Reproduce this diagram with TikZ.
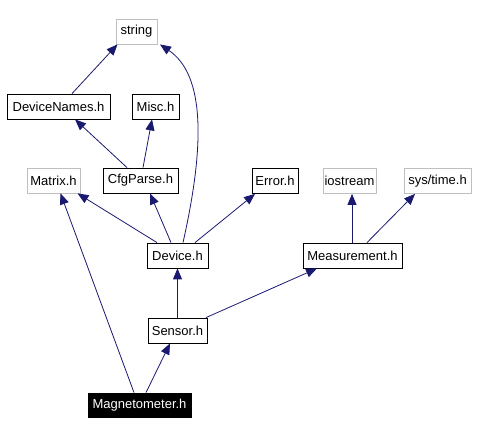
\documentclass[tikz,border=0pt]{standalone}
\usepackage{fontspec}
\setmainfont{Liberation Sans}
\usetikzlibrary{arrows.meta}
\definecolor{edgeblue}{HTML}{191970}
\definecolor{boxgray}{HTML}{BFBFBF}
\begin{document}
\begin{tikzpicture}[x=1pt,y=1pt,
  box/.style={draw=black,line width=0.8pt,fill=white,inner sep=0pt,minimum height=25pt,font=\fontsize{13}{15}\selectfont},
  extbox/.style={box,draw=boxgray},
  mainbox/.style={box,fill=black,text=white},
  dep/.style={draw=edgeblue,line width=0.8pt,-{Triangle[length=11pt,width=9pt]}}]
\useasboundingbox (0,0) rectangle (478,435);
\node[extbox,minimum width=41pt] (string) at (136.5,403.5) {string};
\node[box,minimum width=103pt] (devnames) at (58.5,328.5) {DeviceNames.h};
\node[box,minimum width=47pt] (misc) at (155.5,328.5) {Misc.h};
\node[extbox,minimum width=53pt] (matrix) at (53.5,254.5) {Matrix.h};
\node[box,minimum width=75pt] (cfg) at (140.5,254.5) {CfgParse.h};
\node[box,minimum width=46pt] (error) at (275,254) {Error.h};
\node[extbox,minimum width=53pt] (iostream) at (349.5,254) {iostream};
\node[extbox,minimum width=67pt] (systime) at (437.5,254) {sys/time.h};
\node[box,minimum width=61pt] (device) at (177.5,179.5) {Device.h};
\node[box,minimum width=99pt] (meas) at (352.5,179.5) {Measurement.h};
\node[box,minimum width=59pt] (sensor) at (177.5,104.5) {Sensor.h};
\node[mainbox,minimum width=103pt,minimum height=24pt] (magn) at (139.5,30) {Magnetometer.h};

\draw[dep] ([xshift=13.5]devnames.north) -- ([xshift=-19]string.south);
\draw[dep] ([xshift=5.5]device.north) .. controls (205,290) and (205,360) .. ([xshift=23.5]string.south);
\draw[dep] ([xshift=-13.5]cfg.north) -- ([xshift=16.5]devnames.south);
\draw[dep] ([xshift=2.5]cfg.north) -- ([xshift=-3.5]misc.south);
\draw[dep] ([xshift=-20.5]device.north) -- ([xshift=24]matrix.south);
\draw[dep] ([xshift=-6.5]device.north) -- ([xshift=9.5]cfg.south);
\draw[dep] ([xshift=17.5]device.north) -- ([xshift=-20]error.south);
\draw[dep] ([xshift=-0.5]meas.north) -- ([xshift=2.5]iostream.south);
\draw[dep] ([xshift=14.5]meas.north) -- ([xshift=-22.5]systime.south);
\draw[dep] (sensor.north) -- (device.south);
\draw[dep] ([xshift=28.5]sensor.north) -- ([xshift=-35.5]meas.south);
\draw[dep] ([xshift=-5.5]magn.north) -- ([xshift=7]matrix.south);
\draw[dep] ([xshift=6.5]magn.north) -- ([xshift=-7.5]sensor.south);
\end{tikzpicture}
\end{document}
